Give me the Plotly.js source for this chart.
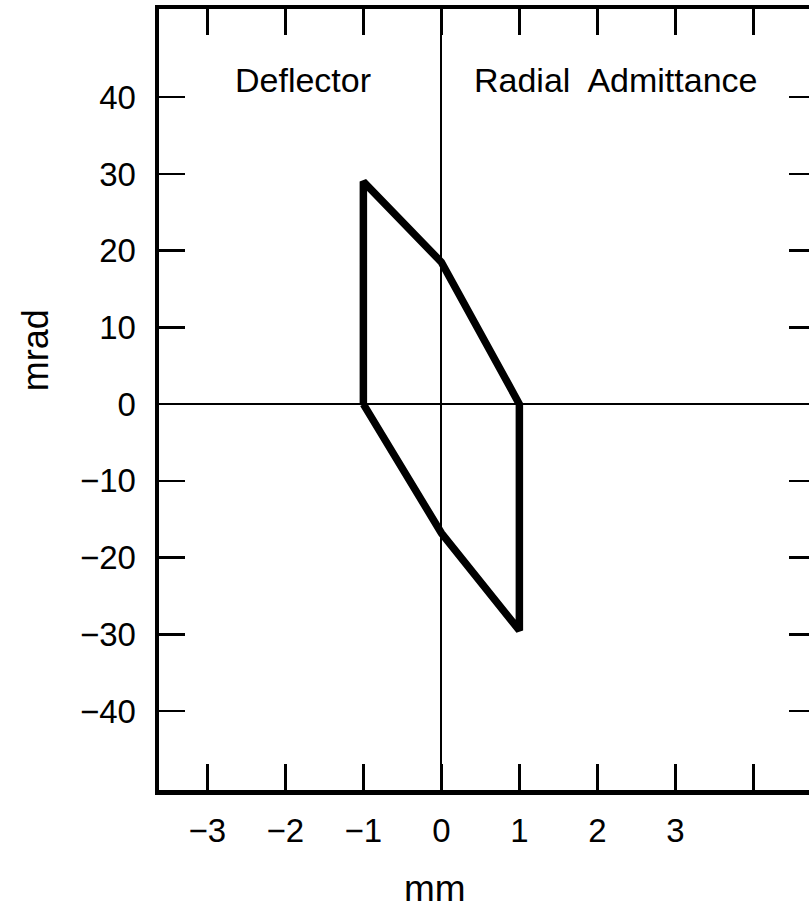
<!DOCTYPE html>
<html>
<head>
<meta charset="utf-8">
<script src="https://cdn.plot.ly/plotly-3.0.1.min.js"></script>
<style>
html, body { margin: 0; padding: 0; overflow: hidden; background: #fff; }
#chart { width: 830px; height: 915px; }
</style>
</head>
<body>
<div id="chart"></div>
<script>
// Phase-space boundary (mm, mrad)
const polyX = [-1, -1, 0, 1, 1, 0, -1];
const polyY = [0, 29, 18.5, 0, -29.5, -16.8, 0];

// Axis ticks
const xTickVals = [-3, -2, -1, 0, 1, 2, 3, 4];
const xTickText = ["\u22123", "\u22122", "\u22121", "0", "1", "2", "3", ""];
const yTickVals = [-40, -30, -20, -10, 0, 10, 20, 30, 40];
const yTickText = ["\u221240", "\u221230", "\u221220", "\u221210", "0", "10", "20", "30", "40"];

// Labels
const regionLabels = ["Deflector", "Radial  Admittance"];
const regionLabelX = [-1.77, 2.24];
const regionLabelY = [42.3, 42.3];
const xTitle = "mm";
const yTitle = "mrad";

const FONT = "Liberation Sans, Arial, Helvetica, sans-serif";

const trace = {
  x: polyX, y: polyY, type: "scatter", mode: "lines",
  line: { color: "#000", width: 7.5 },
  hoverinfo: "skip", showlegend: false
};

const axisCommon = {
  showgrid: false,
  showline: true, linecolor: "#000", linewidth: 4.5,
  mirror: "allticks",
  ticks: "inside", ticklen: 26, tickwidth: 2.5, tickcolor: "#000",
  zeroline: true, zerolinecolor: "#000", zerolinewidth: 2,
  tickfont: { family: FONT, size: 33, color: "#000" },
  tickmode: "array"
};

const annotations = regionLabels.map((t, i) => ({
  x: regionLabelX[i], y: regionLabelY[i], xref: "x", yref: "y",
  text: t, showarrow: false,
  font: { family: FONT, size: 34, color: "#000" }
}));
annotations.push({
  x: 0.421, y: -0.1255, xref: "paper", yref: "paper",
  xanchor: "center", yanchor: "middle",
  text: xTitle, showarrow: false,
  font: { family: FONT, size: 37, color: "#000" }
});
annotations.push({
  x: -0.189, y: 0.563, xref: "paper", yref: "paper",
  xanchor: "center", yanchor: "middle", textangle: -90,
  text: yTitle, showarrow: false,
  font: { family: FONT, size: 36, color: "#000" }
});

const layout = {
  width: 830, height: 915,
  paper_bgcolor: "#fff", plot_bgcolor: "#fff",
  margin: { l: 159, r: 15, t: 9, b: 125 },
  showlegend: false,
  xaxis: Object.assign({}, axisCommon, {
    range: [-3.62, 4.79],
    tickvals: xTickVals, ticktext: xTickText,
    ticklabelstandoff: 8
  }),
  yaxis: Object.assign({}, axisCommon, {
    range: [-50.3, 51.5],
    tickvals: yTickVals, ticktext: yTickText,
    ticklabelstandoff: 12
  }),
  annotations: annotations
};

Plotly.newPlot("chart", [trace], layout, { staticPlot: true, displayModeBar: false });
</script>
</body>
</html>
